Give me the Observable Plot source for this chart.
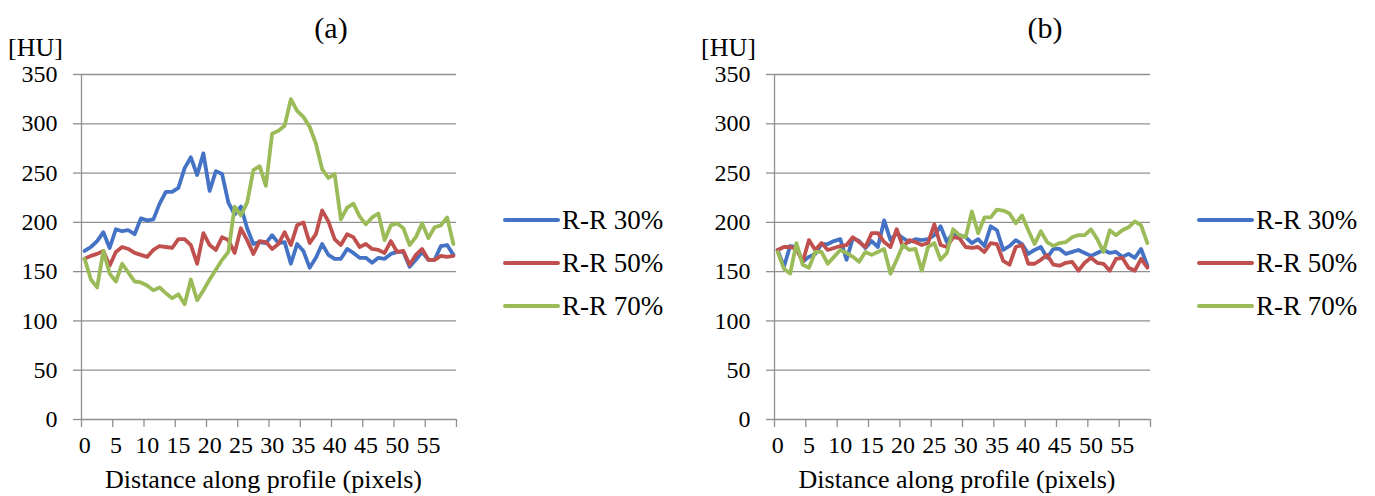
<!DOCTYPE html>
<html>
<head>
<meta charset="utf-8">
<script src="https://cdn.jsdelivr.net/npm/d3@7"></script>
<script src="https://cdn.jsdelivr.net/npm/@observablehq/plot@0.6"></script>
<style>
  html, body { margin: 0; padding: 0; background: #fff; }
  #chart { display: flex; width: 1375px; height: 496px; overflow: hidden; }
  #chart svg { flex: none; }
</style>
</head>
<body>
<div id="chart"></div>
<script>
// Profile position (pixels) for each sample along the line
const distance = Array.from({length: 60}, (_, i) => i);

// Axis ticks and labels
const yTicks = [0, 50, 100, 150, 200, 250, 300, 350];
const xLabels = [0, 5, 10, 15, 20, 25, 30, 35, 40, 45, 50, 55];
const xTickMarks = [-0.5, 4.5, 9.5, 14.5, 19.5, 24.5, 29.5, 34.5, 39.5, 44.5, 49.5, 54.5, 59.5];

// Series names and colours
const seriesNames = ["R-R 30%", "R-R 50%", "R-R 70%"];
const seriesColors = ["#4472C4", "#C0504D", "#9BBB59"];

// (a) HU values along the profile
const a30 = [171,175,181,190,174,193,191,192,188,204, 202,203,219,231,231,235,255,266,248,270,
             232,252,249,220,208,216,194,178,180,179, 187,179,180,158,178,171,154,164,178,167,
             163,163,173,169,164,164,159,164,163,168, 170,170,155,162,170,162,162,176,177,167];
const a50 = [163,166,168,171,156,170,175,173,169,167, 165,172,176,175,174,183,183,177,158,189,
             177,172,185,182,169,194,182,168,181,180, 173,178,190,177,197,200,179,188,212,201,
             183,177,188,185,175,178,173,172,169,181, 170,171,157,167,173,162,162,166,165,166];
const a70 = [163,142,134,171,148,140,158,149,140,139, 136,131,134,128,123,127,117,142,121,131,
             142,152,162,170,216,207,220,253,257,237, 290,293,298,325,313,307,297,280,254,245,
             249,203,215,219,206,198,205,209,182,197, 199,194,177,185,199,184,195,197,205,178];

// (b) HU values along the profile
const b30 = [172,155,176,175,160,165,168,178,178,181, 183,162,184,181,174,181,175,202,182,189,
             184,180,183,182,183,187,196,180,189,187, 185,179,183,176,196,192,172,176,182,178,
             168,172,175,164,173,173,168,170,172,169, 166,169,172,169,170,165,168,164,173,156];
const b50 = [172,175,175,173,160,182,172,179,172,174, 176,177,185,180,175,189,189,180,175,193,
             175,182,180,177,179,198,177,175,185,184, 175,174,175,170,179,178,161,157,175,177,
             158,158,162,167,157,156,159,160,151,159, 164,159,158,151,163,164,154,151,163,154];
const b70 = [170,153,148,179,157,154,170,170,158,165, 172,169,165,160,170,167,170,173,148,162,
             177,172,173,151,175,179,162,169,193,187, 185,211,189,205,205,213,212,209,199,207,
             192,178,191,180,176,179,180,185,187,187, 193,183,170,192,187,192,195,201,197,179];

const FONT = "'Liberation Serif', 'Times New Roman', Times, serif";
const GRID = "#8f8f8f";

function panel({title, titleX, values, width, marginLeft, marginRight}) {
  const rows = values.flatMap((vals, k) =>
    vals.map((v, i) => ({distance: distance[i], hu: v, name: seriesNames[k]})));

  const svgNode = Plot.plot({
    width,
    height: 496,
    marginLeft,
    marginRight,
    marginTop: 74,
    marginBottom: 77,
    style: {fontFamily: FONT, color: "#000", background: "#fff", overflow: "visible"},
    x: {domain: [-0.5, 59.5], axis: null},
    y: {domain: [0, 350], axis: null},
    color: {domain: seriesNames, range: seriesColors},
    marks: [
      Plot.gridY(yTicks, {stroke: GRID, strokeOpacity: 1, strokeWidth: 1.3}),
      Plot.ruleX([-0.5], {stroke: GRID, strokeWidth: 1.3}),
      // tick marks on both axes
      Plot.axisY(yTicks, {tickSize: 8, tickFormat: () => "", stroke: GRID, strokeWidth: 1.3, label: null}),
      Plot.axisX(xTickMarks, {tickSize: 8, tickFormat: () => "", stroke: GRID, strokeWidth: 1.3, label: null}),
      // tick labels
      Plot.text(yTicks, {y: d => d, text: d => String(d), frameAnchor: "left", dx: -24, textAnchor: "end",
                         fontSize: 24, fontFamily: FONT, fill: "#000"}),
      Plot.text(xLabels, {x: d => d, text: d => String(d), frameAnchor: "bottom", dy: 16, lineAnchor: "top",
                          fontSize: 24, fontFamily: FONT, fill: "#000"}),
      Plot.line(rows, {x: "distance", y: "hu", z: "name", stroke: "name", strokeWidth: 3.8, strokeLinejoin: "round", strokeLinecap: "round"})
    ]
  });

  const svg = d3.select(svgNode);
  const right = width - marginRight;

  // panel title
  svg.append("text")
    .attr("x", titleX).attr("y", 38)
    .attr("text-anchor", "middle")
    .style("font", `30px ${FONT}`)
    .text(title);

  // unit label above the y axis
  svg.append("text")
    .attr("x", marginLeft - 73).attr("y", 56)
    .attr("text-anchor", "start")
    .style("font", `26px ${FONT}`)
    .text("[HU]");

  // x-axis title
  svg.append("text")
    .attr("x", (marginLeft + right) / 2 - 5).attr("y", 488)
    .attr("text-anchor", "middle")
    .style("font", `26px ${FONT}`)
    .text("Distance along profile (pixels)");

  // legend to the right of the plot area
  const legend = svg.append("g");
  const rowsY = [220, 263, 306];
  seriesNames.forEach((name, k) => {
    legend.append("line")
      .attr("x1", right + 49).attr("x2", right + 102)
      .attr("y1", rowsY[k]).attr("y2", rowsY[k])
      .attr("stroke", seriesColors[k]).attr("stroke-width", 4)
      .attr("stroke-linecap", "round");
    legend.append("text")
      .attr("x", right + 106).attr("y", rowsY[k])
      .attr("text-anchor", "start")
      .attr("dominant-baseline", "central")
      .style("font", `27px ${FONT}`)
      .text(name);
  });

  return svgNode;
}

const chart = document.getElementById("chart");
chart.append(panel({title: "(a)", titleX: 331, values: [a30, a50, a70], width: 688, marginLeft: 81, marginRight: 232}));
chart.append(panel({title: "(b)", titleX: 357, values: [b30, b50, b70], width: 687, marginLeft: 86, marginRight: 225}));
</script>
</body>
</html>
